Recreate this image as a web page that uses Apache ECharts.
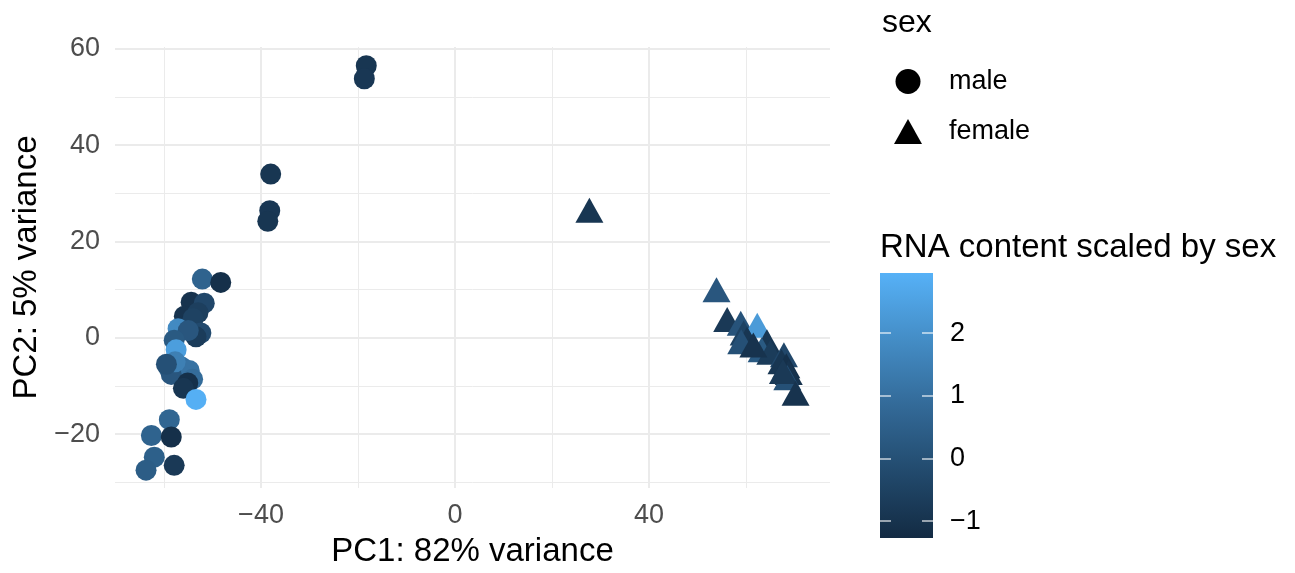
<!DOCTYPE html>
<html>
<head>
<meta charset="utf-8">
<script src="https://cdn.jsdelivr.net/npm/echarts@6/dist/echarts.min.js"></script>
<style>html,body{margin:0;padding:0;background:#fff}#c{width:1295px;height:573px}</style>
</head>
<body>
<div id="c"></div>
<script>
// ---- data ----
var maleX   = [-18.3,-18.7,-38.0,-38.2,-38.6,-52.1,-48.3,-54.4,-51.7,-55.8,-53.0,-54.0,-57.1,-52.4,-53.4,-55.0,-57.9,-57.5,-58.9,-56.5,-54.8,-58.5,-54.1,-55.1,-56.0,-53.4,-58.9,-62.6,-58.5,-62.0,-63.7,-57.9,-57.7,-59.5];
var maleY   = [56.5,53.8,34.0,26.4,24.2,12.2,11.5,7.4,7.2,4.5,5.2,4.0,1.9,1.0,0.2,1.5,-0.5,-2.5,-6.4,-6.0,-6.8,-7.6,-8.6,-9.4,-10.5,-12.8,-17.0,-20.3,-20.6,-24.8,-27.5,-26.5,-5.0,-5.5];
var maleRNA = [-0.9,-0.85,-0.9,-0.85,-0.9,0.6,-1.1,-1.0,-0.3,-1.0,-0.6,-0.5,1.8,-0.2,-0.7,0.2,0.3,2.4,0.5,1.0,1.1,0.2,0.9,-1.1,-0.9,2.9,0.7,0.6,-1.1,0.5,0.4,-0.8,1.5,0.0];

var femaleX   = [27.7,53.9,56.1,58.9,62.3,59.5,60.2,59.0,64.3,63.2,65.0,67.8,67.3,68.3,68.8,68.5,67.6,70.2,61.5];
var femaleY   = [26.5,10.0,3.8,3.0,2.6,1.0,-0.3,-0.8,-0.8,-2.5,-3.0,-3.5,-5.0,-5.8,-7.2,-8.3,-7.0,-11.5,-1.5];
var femaleRNA = [-0.9,0.2,-0.8,0.1,2.3,-0.5,-0.9,0.0,-0.9,0.3,-0.7,-0.3,-0.9,-1.1,-1.0,0.0,-0.8,-1.0,-1.0];

var xMajor = [-40,0,40];
var xMinor = [-60,-20,20,60];
var yMajor = [-20,0,20,40,60];
var yMinor = [-30,-10,10,30,50];
var barTicks = [-1,0,1,2];

var rnaMin = -1.27, rnaMax = 2.96;
var ramp = ['#132B43','#224A6D','#336A98','#448DC6','#56B1F7'];

function zip(xs, ys, vs){ return xs.map(function(x,i){ return [x, ys[i], vs[i]]; }); }
function minus(v){ return String(v).replace('-', '\u2212'); }

var FONT = 'Liberation Sans, Arial, Helvetica, sans-serif';
var grid0 = {left:115, right:465, top:47, bottom:80};
var barTick = {show:true, inside:true, length:11, customValues:barTicks, lineStyle:{color:'#FFFFFF', width:1.5, opacity:0.75}};

var chart = echarts.init(document.getElementById('c'));
chart.setOption({
  animation:false,
  backgroundColor:'#fff',
  textStyle:{fontFamily:FONT},
  grid:[
    grid0,
    {left:880, width:53, top:273, height:265, show:true, borderWidth:0,
     backgroundColor:{type:'linear',x:0,y:0,x2:0,y2:1,colorStops:[
       {offset:0,color:ramp[4]},{offset:0.25,color:ramp[3]},{offset:0.5,color:ramp[2]},{offset:0.75,color:ramp[1]},{offset:1,color:ramp[0]}]}}
  ],
  title:[
    {text:'sex', left:877, top:2, textStyle:{fontSize:32, fontWeight:'normal', color:'#000', fontFamily:FONT}},
    {text:'RNA content scaled by sex', left:875, top:226, textStyle:{fontSize:33, fontWeight:'normal', color:'#000', fontFamily:FONT}}
  ],
  legend:{
    orient:'vertical', left:889, top:63, itemWidth:28, itemHeight:25, itemGap:23,
    textStyle:{fontSize:27, color:'#000', fontFamily:FONT, padding:[0,0,0,22]},
    data:[
      {name:'male', icon:'circle', itemStyle:{color:'#000'}},
      {name:'female', icon:'triangle', itemStyle:{color:'#000'}}
    ]
  },
  visualMap:{
    type:'continuous', show:false, dimension:2, seriesIndex:[0,1],
    min:rnaMin, max:rnaMax, inRange:{color:ramp}
  },
  xAxis:[
    {gridIndex:0, type:'value', min:-70.1, max:77.3,
     axisLine:{show:false, onZero:false}, axisTick:{show:false, customValues:xMajor},
     axisLabel:{customValues:xMajor, formatter:minus, fontSize:27, color:'#4D4D4D', margin:14, fontFamily:FONT},
     splitLine:{show:true, lineStyle:{color:'#EBEBEB', width:2}},
     name:'PC1: 82% variance', nameLocation:'middle', nameGap:47,
     nameTextStyle:{fontSize:33, color:'#000', fontFamily:FONT}},
    {gridIndex:0, type:'value', min:-70.1, max:77.3, position:'bottom',
     axisLine:{show:false, onZero:false}, axisTick:{show:false, customValues:xMinor},
     axisLabel:{show:false, customValues:xMinor},
     splitLine:{show:true, lineStyle:{color:'#EBEBEB', width:1}}},
    {gridIndex:1, type:'value', min:0, max:1, show:false, axisLine:{onZero:false}}
  ],
  yAxis:[
    {gridIndex:0, type:'value', min:-31.2, max:60.4,
     axisLine:{show:false, onZero:false}, axisTick:{show:false, customValues:yMajor},
     axisLabel:{customValues:yMajor, formatter:minus, fontSize:27, color:'#4D4D4D', margin:15, fontFamily:FONT},
     splitLine:{show:true, lineStyle:{color:'#EBEBEB', width:2}},
     name:'PC2: 5% variance', nameLocation:'middle', nameGap:71, nameRotate:90,
     nameTextStyle:{fontSize:33, color:'#000', fontFamily:FONT}},
    {gridIndex:0, type:'value', min:-31.2, max:60.4, position:'left',
     axisLine:{show:false, onZero:false}, axisTick:{show:false, customValues:yMinor},
     axisLabel:{show:false, customValues:yMinor},
     splitLine:{show:true, lineStyle:{color:'#EBEBEB', width:1}}},
    {gridIndex:1, type:'value', min:rnaMin, max:rnaMax, position:'right',
     axisLine:{show:false, onZero:false}, splitLine:{show:false},
     axisTick:barTick,
     axisLabel:{customValues:barTicks, formatter:minus, fontSize:27, color:'#000', margin:17, fontFamily:FONT}},
    {gridIndex:1, type:'value', min:rnaMin, max:rnaMax, position:'left',
     axisLine:{show:false, onZero:false}, splitLine:{show:false},
     axisTick:barTick,
     axisLabel:{show:false}}
  ],
  series:[
    {name:'male', type:'scatter', xAxisIndex:0, yAxisIndex:0, symbol:'circle', symbolSize:21,
     data:zip(maleX, maleY, maleRNA), itemStyle:{opacity:1}},
    {name:'female', type:'scatter', xAxisIndex:0, yAxisIndex:0, symbol:'triangle', symbolSize:[28,25],
     data:zip(femaleX, femaleY, femaleRNA), itemStyle:{opacity:1}}
  ]
});
</script>
</body>
</html>
